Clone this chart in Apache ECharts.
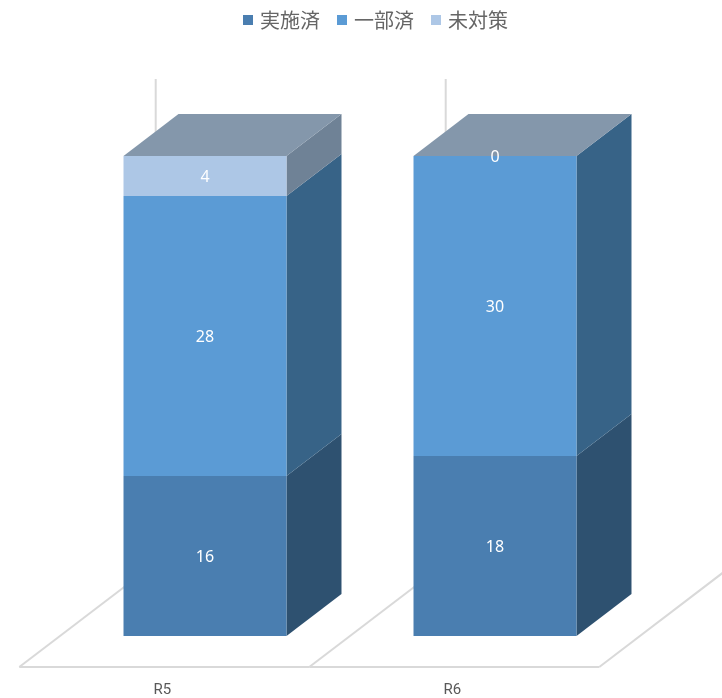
<!DOCTYPE html>
<html><head><meta charset="utf-8">
<script src="https://cdn.jsdelivr.net/npm/echarts@6/dist/echarts.min.js"></script>
<style>html,body{margin:0;padding:0;background:#fff;}#c{width:722px;height:698px;}</style>
</head><body><div id="c"></div>
<script>
var categories = ['R5', 'R6'];
var seriesNames = ['実施済', '一部済', '未対策'];
var jisshi = [16, 18];
var ichibu = [28, 30];
var mitaisaku = [4, 0];

var valueLists = [jisshi, ichibu, mitaisaku];
var frontColors = ['#4a7eb0', '#5b9bd5', '#adc7e6'];
var sideColors = ['#2e5170', '#376387', '#6f8296'];
var topColor = '#8497ab';
var DX = 55, DY = -42;
var Y_MAX = 48.4;

function segData(k) {
  return categories.map(function (c, i) {
    var b = 0;
    for (var j = 0; j < k; j++) b += valueLists[j][i];
    return [i, b, b + valueLists[k][i], valueLists[k][i]];
  });
}

function makeSeries(k) {
  return {
    type: 'custom', name: seriesNames[k], z: 5,
    itemStyle: { color: frontColors[k] },
    data: segData(k),
    renderItem: function (params, api) {
      var ci = api.value(0);
      var p0 = api.coord([ci, api.value(1)]);
      var p1 = api.coord([ci, api.value(2)]);
      var w = api.size([1, 0])[0] * 0.562;
      var xl = p0[0] - w / 2, xr = p0[0] + w / 2;
      var yb = p0[1], yt = p1[1];
      var children = [
        { type: 'polygon', shape: { points: [[xr, yt], [xr + DX, yt + DY], [xr + DX, yb + DY], [xr, yb]] },
          style: { fill: sideColors[k] } },
        { type: 'rect', shape: { x: xl, y: yt, width: w, height: yb - yt },
          style: { fill: frontColors[k] } }
      ];
      if (k === valueLists.length - 1) {
        children.push({ type: 'polygon', shape: { points: [[xl, yt], [xl + DX, yt + DY], [xr + DX, yt + DY], [xr, yt]] },
          style: { fill: topColor } });
      }
      children.push({ type: 'text', z2: 10, style: { text: String(api.value(3)), x: p0[0], y: (yt + yb) / 2 + 1,
        fill: '#ffffff', fontSize: 16, fontFamily: 'Noto Sans', align: 'center', verticalAlign: 'middle' } });
      return { type: 'group', children: children };
    }
  };
}

var floorSeries = {
  type: 'custom', name: 'floor', z: 1, silent: true,
  data: categories.map(function (c, i) { return [i, 0]; }),
  renderItem: function (params, api) {
    var ci = api.value(0);
    var p = api.coord([ci, 0]);
    var top = api.coord([ci, Y_MAX]);
    var bw = api.size([1, 0])[0];
    var fx = -0.74 * DX, fy = -0.74 * DY;
    var bx = 1.74 * DX, by = 1.74 * DY;
    var L = p[0] - bw / 2, R = p[0] + bw / 2, y = p[1];
    var st = { stroke: '#d9d9d9', lineWidth: 2, fill: null };
    var ch = [
      { type: 'line', shape: { x1: L + fx, y1: y + fy, x2: L + bx, y2: y + by }, style: st },
      { type: 'line', shape: { x1: L + fx, y1: y + fy, x2: R + fx, y2: y + fy }, style: st },
      { type: 'line', shape: { x1: L + bx, y1: y + by, x2: L + bx, y2: top[1] + by }, style: st }
    ];
    if (ci === categories.length - 1) {
      ch.push({ type: 'line', shape: { x1: R + fx, y1: y + fy, x2: R + bx, y2: y + by }, style: st });
    }
    ch.push({ type: 'text', style: { text: categories[ci], x: p[0] + fx - 2, y: y + fy + 23,
      fill: '#595959', fontSize: 15, fontFamily: 'Roboto', align: 'center', verticalAlign: 'middle' } });
    return { type: 'group', children: ch };
  }
};

var chart = echarts.init(document.getElementById('c'), null, { renderer: 'canvas' });
chart.setOption({
  animation: false,
  backgroundColor: '#ffffff',
  legend: {
    data: seriesNames, top: 10, left: 243, padding: 0, icon: 'rect', itemWidth: 10, itemHeight: 10, itemGap: 17,
    textStyle: { color: '#666666', fontSize: 20, fontFamily: 'Noto Sans CJK JP', padding: [0, 0, 0, 2] }
  },
  grid: { left: 60, right: 82, top: 152, bottom: 62 },
  xAxis: { type: 'category', data: categories, axisLine: { show: false }, axisTick: { show: false },
    axisLabel: { show: false }, splitLine: { show: false } },
  yAxis: { type: 'value', min: 0, max: Y_MAX, axisLine: { show: false }, axisTick: { show: false },
    axisLabel: { show: false }, splitLine: { show: false } },
  series: [floorSeries, makeSeries(0), makeSeries(1), makeSeries(2)]
});
</script></body></html>
